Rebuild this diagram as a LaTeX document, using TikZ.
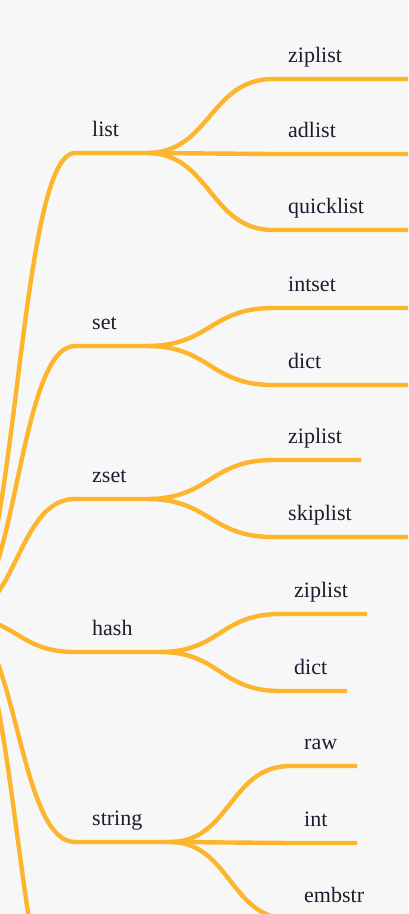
\documentclass[tikz,border=0pt]{standalone}
\usepackage{fontspec}
\setmainfont{Liberation Serif}
\usetikzlibrary{calc}
\definecolor{bgc}{RGB}{247,247,247}
\definecolor{linec}{RGB}{252,181,45}
\definecolor{txtc}{RGB}{28,28,46}
\newcommand\mmlink[3]{\draw[link] let \p1=(#1), \p2=(#2) in (#1) .. controls ({(\x1+\x2)/2},\y1) and ({(\x1+\x2)/2},\y2) .. (#2) -- (#3);}
\tikzset{
  link/.style={draw=linec, line width=4.4pt, line join=round},
  lbl/.style={anchor=base west, inner sep=0pt, text=txtc, font=\fontsize{22}{26}\selectfont}
}
\begin{document}
\begin{tikzpicture}[x=1pt,y=-1pt]
\useasboundingbox (0,0) rectangle (408,914);
\fill[bgc] (0,0) rectangle (408,914);
\clip (0,0) rectangle (408,914);
% root (off canvas)
\coordinate (root) at (-41,617);
% categories
\coordinate (listA) at (75,153);   \coordinate (listB) at (147,153);
\coordinate (setA) at (75,346);    \coordinate (setB) at (147,346);
\coordinate (zsetA) at (75,499);   \coordinate (zsetB) at (147,499);
\coordinate (hashA) at (75,652);   \coordinate (hashB) at (160,652);
\coordinate (strA) at (75,842);    \coordinate (strB) at (170,842);
\coordinate (sixA) at (75,1050);   \coordinate (sixB) at (150,1050);
\mmlink{root}{listA}{listB}
\mmlink{root}{setA}{setB}
\mmlink{root}{zsetA}{zsetB}
\mmlink{root}{hashA}{hashB}
\mmlink{root}{strA}{strB}
\mmlink{root}{sixA}{sixB}
% list children
\coordinate (l1A) at (273,79);  \coordinate (l1B) at (420,79);
\coordinate (l2A) at (273,154); \coordinate (l2B) at (420,154);
\coordinate (l3A) at (273,230); \coordinate (l3B) at (420,230);
\mmlink{listB}{l1A}{l1B}
\mmlink{listB}{l2A}{l2B}
\mmlink{listB}{l3A}{l3B}
% set children
\coordinate (s1A) at (273,308); \coordinate (s1B) at (420,308);
\coordinate (s2A) at (273,385); \coordinate (s2B) at (420,385);
\mmlink{setB}{s1A}{s1B}
\mmlink{setB}{s2A}{s2B}
% zset children
\coordinate (z1A) at (273,460); \coordinate (z1B) at (361,460);
\coordinate (z2A) at (273,537); \coordinate (z2B) at (420,537);
\mmlink{zsetB}{z1A}{z1B}
\mmlink{zsetB}{z2A}{z2B}
% hash children
\coordinate (h1A) at (280,614); \coordinate (h1B) at (367,614);
\coordinate (h2A) at (280,691); \coordinate (h2B) at (347,691);
\mmlink{hashB}{h1A}{h1B}
\mmlink{hashB}{h2A}{h2B}
% string children
\coordinate (r1A) at (290,766); \coordinate (r1B) at (357,766);
\coordinate (r2A) at (290,843); \coordinate (r2B) at (357,843);
\coordinate (r3A) at (290,919); \coordinate (r3B) at (380,919);
\mmlink{strB}{r1A}{r1B}
\mmlink{strB}{r2A}{r2B}
\mmlink{strB}{r3A}{r3B}
% labels
\node[lbl] (tlist) at (92,136) {list};
\node[lbl] (tset) at (92,329) {set};
\node[lbl] (tzset) at (92,482) {zset};
\node[lbl] (thash) at (92,635) {hash};
\node[lbl] (tstring) at (92,825) {string};
\node[lbl] (tl1) at (288,62) {ziplist};
\node[lbl] (tl2) at (288,137) {adlist};
\node[lbl] (tl3) at (288,213) {quicklist};
\node[lbl] (ts1) at (288,291) {intset};
\node[lbl] (ts2) at (288,368) {dict};
\node[lbl] (tz1) at (288,443) {ziplist};
\node[lbl] (tz2) at (288,520) {skiplist};
\node[lbl] (th1) at (294,597) {ziplist};
\node[lbl] (th2) at (294,674) {dict};
\node[lbl] (tr1) at (304,749) {raw};
\node[lbl] (tr2) at (304,826) {int};
\node[lbl] (tr3) at (304,902) {embstr};
\end{tikzpicture}
\end{document}
